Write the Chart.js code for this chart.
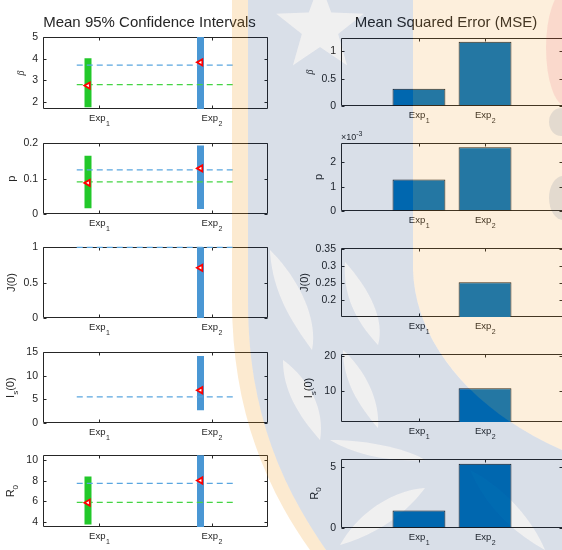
<!DOCTYPE html>
<html>
<head>
<meta charset="utf-8">
<script src="https://cdn.jsdelivr.net/npm/chart.js@4.4.0/dist/chart.umd.min.js"></script>
<style>
  html, body { margin: 0; padding: 0; background: #fff; }
  #fig { position: relative; width: 562px; height: 550px; overflow: hidden; }
  #fig canvas { position: absolute; }
  #mark { position: absolute; left: 0; top: 0; pointer-events: none; }
</style>
</head>
<body>
<div id="fig">
  <svg id="mark" width="562" height="550" viewBox="0 0 562 550">
    <defs>
      <g id="leaves">
        <polygon points="320,-18 331.2,12.6 363.7,13.8 338.1,33.9 347,65.2 320,47 293,65.2 301.9,33.9 276.3,13.8 308.8,12.6"/>
        <path d="M270,250 C300,280 318,320 312,350 C290,320 272,290 270,250 Z"/>
        <path d="M345,262 C370,290 385,320 378,345 C355,320 343,295 345,262 Z"/>
        <path d="M283,360 C310,380 325,410 320,440 C298,415 283,390 283,360 Z"/>
        <path d="M343,350 C365,370 380,400 378,428 C358,405 343,380 343,350 Z"/>
        <path d="M330,440 C370,440 410,450 425,460 C390,462 355,455 330,440 Z"/>
        <path d="M340,545 C360,510 395,490 425,488 C405,515 375,535 340,545 Z"/>
        <path d="M470,470 C500,485 530,515 545,550 C510,530 485,505 470,470 Z"/>
      </g>
      <mask id="holes">
        <rect width="562" height="550" fill="#fff"/>
        <use href="#leaves" fill="#000"/>
      </mask>
      <clipPath id="band">
        <path d="M248,0 L248,300 C248,400 274,475 326,550 L562,550 L562,450 C470,410 415,340 413,270 L413,0 Z"/>
      </clipPath>
    </defs>
    <path d="M232,0 L232,300 C232,400 260,480 310,550 L326,550 C274,475 248,400 248,300 L248,0 Z" fill="rgb(240,150,20)" fill-opacity="0.2"/>
    <path d="M413,0 L413,270 C415,340 470,410 562,450 L562,0 Z" fill="rgb(241,148,20)" fill-opacity="0.15"/>
    <path d="M248,0 L248,300 C248,400 274,475 326,550 L562,550 L562,450 C470,410 415,340 413,270 L413,0 Z" fill="rgb(0,40,100)" fill-opacity="0.15" mask="url(#holes)"/>
    <use href="#leaves" fill="#000" fill-opacity="0.06" clip-path="url(#band)"/>
    <ellipse cx="566" cy="48" rx="20" ry="58" fill="rgb(225,30,70)" fill-opacity="0.1"/>
    <ellipse cx="561" cy="122" rx="12" ry="14" fill="rgb(0,40,100)" fill-opacity="0.1"/>
    <ellipse cx="563" cy="198" rx="14" ry="22" fill="rgb(0,40,100)" fill-opacity="0.1"/>
  </svg>
</div>
<script>
// estimates per parameter: beta, p, J(0), I_s(0), R_0
const ciLow1   = [1.76, 0.016, null, null, 3.74];
const ciHigh1  = [4.02, 0.165, null, null, 8.41];
const ciLow2   = [1.50, 0.014, -0.20, 2.70, 3.20];
const ciHigh2  = [5.30, 0.194, 1.20, 14.2, 10.8];
const meanEst1 = [2.76, 0.088, null, null, 5.87];
const meanEst2 = [3.83, 0.129, 0.71, 6.95, 8.03];
const trueVal1 = [2.80, 0.091, null, null, 5.90];
const trueVal2 = [3.70, 0.125, 1.00, 5.55, 7.74];
const mse1 = [0.317, 0.00130, null, null, 1.43];
const mse2 = [1.176, 0.00263, 0.253, 10.77, 5.25];

// axis limits and ticks
const ciYMin = [1.68, 0, 0, 0, 3.5];
const ciYMax = [5, 0.2, 1, 15, 10.48];
const ciYTicks = [[2, 3, 4, 5], [0, 0.1, 0.2], [0, 0.5, 1], [0, 5, 10, 15], [4, 6, 8, 10]];
const mseYMin = [0, 0, 0.15, 1.14, 0];
const mseYMax = [1.243, 0.0028, 0.354, 20.6, 5.63];
const mseYTicks = [[0, 0.5, 1], [0, 0.001, 0.002], [0.2, 0.25, 0.3, 0.35], [10, 20], [0, 5]];
const mseScale = [1, 1000, 1, 1, 1];
const mseExponent = ['', '-3', '', '', ''];

const expX = [1, 2];
const expNames = ['Exp', 'Exp'];
const expSubs = ['1', '2'];
const ciBarX = [0.9, 1.9];
const refLineX = [0.8, 2.2];
const ciXRange = [0.5, 2.5];
const mseXRange = [-0.18, 3.18];

// y labels: [main, subscript, tail, italic]
const yLabels = [['β', '', '', true], ['p', '', '', false], ['J(0)', '', '', false], ['I', 's', '(0)', false], ['R', '0', '', false]];
const titles = ['Mean 95% Confidence Intervals', 'Mean Squared Error (MSE)'];

// subplot boxes (px)
const ciTop = [37, 142, 246, 351, 454];
const ciBottom = [109, 214, 318, 423, 527];
const mseTop = [38, 143, 248, 354, 459];
const mseBottom = [106, 211, 317, 422, 528];

const ink = '#262626';
const FAM = '"Liberation Sans", Arial, sans-serif';
const green = '#22c82a', greenDash = '#45d445';
const blue = '#4a97d4', blueDash = '#5aa6e0';

const fmtNum = v => String(+v.toFixed(6));

// MATLAB-like axes: box and inward ticks under the data, labels on top
const matlabAxes = {
  id: 'matlabAxes',
  beforeDatasetsDraw(chart) {
    const {ctx, chartArea: a} = chart;
    const xs = chart.scales.x, ys = chart.scales.y;
    ctx.save();
    ctx.strokeStyle = ink;
    ctx.lineWidth = 1;
    const L = Math.round(a.left) + 0.5, R = Math.round(a.right) - 0.5;
    const T = Math.round(a.top) + 0.5, B = Math.round(a.bottom) - 0.5;
    ctx.beginPath();
    ctx.rect(L, T, R - L, B - T);
    ys.ticks.forEach(t => {
      const y = Math.round(ys.getPixelForValue(t.value)) + 0.5;
      ctx.moveTo(L, y); ctx.lineTo(L + 3, y);
      ctx.moveTo(R, y); ctx.lineTo(R - 3, y);
    });
    expX.forEach(v => {
      const x = Math.round(xs.getPixelForValue(v)) + 0.5;
      ctx.moveTo(x, B); ctx.lineTo(x, B - 3);
      ctx.moveTo(x, T); ctx.lineTo(x, T + 3);
    });
    ctx.stroke();
    ctx.restore();
  },
  afterDraw(chart, args, o) {
    const {ctx, chartArea: a} = chart;
    const xs = chart.scales.x, ys = chart.scales.y;
    ctx.save();
    ctx.fillStyle = ink;
    ctx.textAlign = 'left';
    ctx.textBaseline = 'alphabetic';
    // x tick labels
    expX.forEach((v, k) => {
      const x = xs.getPixelForValue(v);
      ctx.font = '9.5px ' + FAM;
      const w1 = ctx.measureText(expNames[k]).width;
      ctx.font = '7px ' + FAM;
      const w2 = ctx.measureText(expSubs[k]).width;
      const x0 = x - (w1 + w2) / 2;
      ctx.font = '9.5px ' + FAM;
      ctx.fillText(expNames[k], x0, a.bottom + 12);
      ctx.font = '7px ' + FAM;
      ctx.fillText(expSubs[k], x0 + w1 + 0.5, a.bottom + 17);
    });

    // y label, left of the widest tick label
    ctx.font = '10.5px ' + FAM;
    let maxW = 0;
    ys.ticks.forEach(t => { maxW = Math.max(maxW, ctx.measureText(t.label).width); });
    const [main, sub, tail, italic] = o.ylabel;
    const cx = a.left - 5 - maxW - 11 - (sub ? 4 : 0);
    const cy = (a.top + a.bottom) / 2;
    const mainFont = italic ? 'italic 10px "Liberation Serif", serif' : '11px ' + FAM;
    ctx.font = mainFont; const wm = ctx.measureText(main).width;
    ctx.font = '8px ' + FAM; const ws = sub ? ctx.measureText(sub).width : 0;
    ctx.font = mainFont; const wt = tail ? ctx.measureText(tail).width : 0;
    ctx.translate(cx, cy);
    ctx.rotate(-Math.PI / 2);
    ctx.textBaseline = 'middle';
    let px = -(wm + ws + wt) / 2;
    ctx.font = mainFont; ctx.fillText(main, px, 0); px += wm;
    if (sub) { ctx.font = '8px ' + FAM; ctx.fillText(sub, px, 4); px += ws; }
    if (tail) { ctx.font = mainFont; ctx.fillText(tail, px, 0); }
    ctx.setTransform(1, 0, 0, 1, 0, 0);

    // exponent marker
    if (o.exponent) {
      ctx.textBaseline = 'alphabetic';
      ctx.font = '9px ' + FAM;
      ctx.fillText('×10', a.left, a.top - 3);
      const w = ctx.measureText('×10').width;
      ctx.font = '7px ' + FAM;
      ctx.fillText(o.exponent, a.left + w, a.top - 7.5);
    }
    // column title
    if (o.title) {
      ctx.font = '15px ' + FAM;
      ctx.textAlign = 'center';
      ctx.fillText(o.title, (a.left + a.right) / 2 - 6, 23);
    }
    ctx.restore();
  }
};

function yAxis(min, max, ticks, width, fmt) {
  return {
    type: 'linear', min, max,
    grid: {display: false, drawTicks: false},
    border: {display: false},
    ticks: {color: ink, font: {family: FAM, size: 10.5}, padding: 5, autoSkip: false, callback: fmt},
    afterBuildTicks: s => { s.ticks = ticks.map(v => ({value: v})); },
    afterFit: s => { s.width = width; }
  };
}

const fig = document.getElementById('fig');
const mark = document.getElementById('mark');
function makeCanvas(left, top, w, h) {
  const c = document.createElement('canvas');
  c.width = w; c.height = h;
  c.style.left = left + 'px';
  c.style.top = top + 'px';
  fig.insertBefore(c, mark);
  return c;
}

const vline = (x, lo, hi, color) => ({
  type: 'line', data: [{x, y: lo}, {x, y: hi}],
  borderColor: color, borderWidth: 7, borderCapStyle: 'butt', pointRadius: 0, clip: 0, order: 3
});
const hline = (y, color) => ({
  type: 'line', data: [{x: refLineX[0], y}, {x: refLineX[1], y}],
  borderColor: color, borderWidth: 1.3, borderDash: [6, 4], pointRadius: 0, clip: 2, order: 2
});

for (let i = 0; i < 5; i++) {
  // confidence intervals column
  const padTop = i === 0 ? ciTop[0] : 10;
  const cv = makeCanvas(0, ciTop[i] - padTop, 280, padTop + ciBottom[i] - ciTop[i] + 26);
  new Chart(cv, {
    type: 'line',
    data: {
      datasets: [
        {
          type: 'scatter',
          data: [{x: ciBarX[0], y: meanEst1[i]}, {x: ciBarX[1], y: meanEst2[i]}],
          pointStyle: 'triangle', rotation: -90, pointRadius: 3.6,
          borderColor: '#ff0000', backgroundColor: '#ffffff', borderWidth: 1.8, order: 1
        },
        hline(trueVal1[i], greenDash),
        hline(trueVal2[i], blueDash),
        vline(ciBarX[0], ciLow1[i], ciHigh1[i], green),
        vline(ciBarX[1], ciLow2[i], ciHigh2[i], blue)
      ]
    },
    options: {
      responsive: false, animation: false, devicePixelRatio: 1,
      layout: {padding: {top: padTop, bottom: 26, left: 0, right: 12}},
      scales: {
        x: {type: 'linear', min: ciXRange[0], max: ciXRange[1], display: false},
        y: yAxis(ciYMin[i], ciYMax[i], ciYTicks[i], 43, fmtNum)
      },
      plugins: {
        legend: {display: false}, tooltip: {enabled: false},
        matlabAxes: {ylabel: yLabels[i], title: i === 0 ? titles[0] : ''}
      }
    },
    plugins: [matlabAxes]
  });

  // MSE column
  const padTop2 = i === 0 ? mseTop[0] : 14;
  const cv2 = makeCanvas(280, mseTop[i] - padTop2, 290, padTop2 + mseBottom[i] - mseTop[i] + 26);
  new Chart(cv2, {
    type: 'bar',
    data: {
      datasets: [{
        data: [{x: expX[0], y: mse1[i]}, {x: expX[1], y: mse2[i]}],
        backgroundColor: '#0072bd', borderColor: '#1a1a1a', borderWidth: 1,
        borderSkipped: false, categoryPercentage: 0.8, barPercentage: 1, clip: 0
      }]
    },
    options: {
      responsive: false, animation: false, devicePixelRatio: 1,
      layout: {padding: {top: padTop2, bottom: 26, left: 0, right: 7}},
      scales: {
        x: {
          type: 'linear', min: mseXRange[0], max: mseXRange[1], display: false, offset: false,
          afterBuildTicks: s => { s.ticks = expX.map(v => ({value: v})); }
        },
        y: yAxis(mseYMin[i], mseYMax[i], mseYTicks[i], 61, v => fmtNum(v * mseScale[i]))
      },
      plugins: {
        legend: {display: false}, tooltip: {enabled: false},
        matlabAxes: {ylabel: yLabels[i], exponent: mseExponent[i], title: i === 0 ? titles[1] : ''}
      }
    },
    plugins: [matlabAxes]
  });
}
</script>
</body>
</html>
